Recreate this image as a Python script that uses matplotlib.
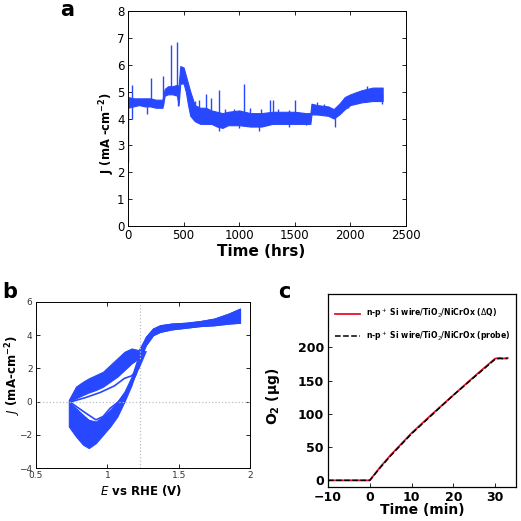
import numpy as np
import matplotlib
matplotlib.use('Agg')
import matplotlib.pyplot as plt

# ---- panel a: long-term stability, band envelope
t_hrs = [0, 50, 100, 150, 200, 250, 310, 330, 360, 400, 440, 455, 470, 500, 520, 540, 560,
         600, 650, 700, 750, 800, 850, 900, 1000, 1100, 1200, 1300, 1400, 1500, 1600, 1640,
         1650, 1700, 1800, 1850, 1900, 1950, 2000, 2100, 2200, 2290]
j_low = [4.4, 4.45, 4.5, 4.45, 4.45, 4.4, 4.4, 4.85, 4.9, 4.9, 4.85, 4.5, 5.3, 5.3, 5.0, 4.5, 4.1,
         3.9, 3.8, 3.8, 3.8, 3.7, 3.65, 3.75, 3.75, 3.7, 3.7, 3.8, 3.8, 3.8, 3.8, 3.8,
         4.15, 4.15, 4.1, 4.0, 4.15, 4.35, 4.5, 4.6, 4.65, 4.65]
j_high = [4.8, 4.75, 4.75, 4.75, 4.75, 4.7, 4.7, 5.1, 5.2, 5.2, 5.25, 5.2, 5.95, 5.9, 5.6, 5.3, 5.0,
          4.5, 4.4, 4.4, 4.3, 4.25, 4.2, 4.25, 4.3, 4.2, 4.2, 4.25, 4.25, 4.25, 4.2, 4.2,
          4.55, 4.5, 4.45, 4.35, 4.55, 4.8, 4.9, 5.05, 5.15, 5.15]
# upward spikes: time, base, top
spike_up_t = [40, 205, 315, 385, 440, 600, 640, 700, 750, 815, 870, 950, 1040, 1100, 1200,
              1280, 1300, 1350, 1450, 1500, 1700, 1760, 1980, 2050, 2150, 2250]
spike_up_base = [4.5, 4.5, 4.5, 4.9, 4.9, 4.0, 3.9, 3.9, 3.9, 3.8, 3.8, 3.8, 3.8, 3.8, 3.8,
                 3.8, 3.8, 3.9, 3.9, 3.9, 4.2, 4.2, 4.4, 4.6, 4.7, 4.7]
spike_up_j = [5.25, 5.5, 5.6, 6.75, 6.85, 4.65, 4.7, 4.9, 4.75, 5.05, 4.35, 4.35, 5.3, 4.4, 4.35,
              4.7, 4.7, 4.35, 4.3, 4.7, 4.6, 4.55, 4.85, 5.0, 5.2, 5.15]
# downward spikes: time, bottom
spike_dn_t = [3, 40, 170, 450, 820, 1000, 1180, 1450, 1600, 1860, 2280]
spike_dn_j = [2.4, 4.0, 4.15, 4.45, 3.55, 3.65, 3.55, 3.7, 3.75, 3.7, 4.55]
spike_dn_top = [4.6, 4.6, 4.6, 5.0, 4.0, 4.0, 4.0, 4.0, 4.0, 4.2, 4.9]

# ---- panel b: cyclic voltammograms (envelopes of the many cycles)
E_grid = [0.73, 0.78, 0.83, 0.87, 0.92, 0.97, 1.02, 1.07, 1.12, 1.17, 1.22, 1.27, 1.32, 1.37,
          1.45, 1.55, 1.65, 1.75, 1.85, 1.93]
fwd_lo = [-1.5, -2.1, -2.6, -2.8, -2.5, -2.0, -1.5, -0.9, 0.0, 1.0, 2.3, 3.4, 4.0, 4.2,
          4.35, 4.45, 4.55, 4.6, 4.7, 4.75]
fwd_hi = [0.0, -0.4, -0.8, -1.1, -1.2, -0.9, -0.5, 0.0, 0.6, 1.5, 2.8, 3.9, 4.4, 4.6,
          4.7, 4.75, 4.85, 5.0, 5.3, 5.6]
rev_lo = [0.0, 0.2, 0.4, 0.55, 0.7, 0.9, 1.2, 1.5, 1.9, 2.3, 2.6, 3.4, 4.0, 4.2,
          4.35, 4.45, 4.55, 4.6, 4.7, 4.75]
rev_hi = [0.1, 0.9, 1.2, 1.4, 1.6, 1.8, 2.2, 2.6, 3.0, 3.2, 3.1, 3.9, 4.4, 4.6,
          4.7, 4.75, 4.85, 5.0, 5.3, 5.6]
E_inner_a = [0.75, 0.85, 0.95, 1.05, 1.12, 1.17, 1.22, 1.27]
J_inner_a = [0.0, 0.25, 0.55, 0.95, 1.4, 1.55, 2.0, 3.0]
E_inner_b = [0.75, 0.85, 0.92, 0.97, 1.02, 1.08, 1.14, 1.2, 1.26]
J_inner_b = [-0.1, -0.7, -1.1, -0.9, -0.4, 0.0, 0.6, 1.6, 3.0]
E_rev = 1.23

# ---- panel c: O2 evolved
t_min = [-10, 0, 2.5, 5, 10, 15, 20, 25, 30, 31, 32, 33]
o2_dq = [0, 0, 20, 38, 71, 100, 128, 156, 183, 184, 183, 184]
o2_probe = [0, 0, 19, 37, 70, 99, 128, 155, 182, 183, 183, 183]

blue = '#2848ff'
W = 521.0
fig = plt.figure(figsize=(5.21, 5.21), dpi=100)


def box(l, t, r, b):
    return fig.add_axes([l / W, 1 - b / W, (r - l) / W, (b - t) / W])


def matlab_ticks(ax, size):
    ax.tick_params(direction='in', top=True, right=True, length=3, width=0.6,
                   labelsize=size, pad=2.5)
    for s in ax.spines.values():
        s.set_linewidth(0.7)


# panel a
axa = box(128, 11, 406, 226)
axa.fill_between(t_hrs, j_low, j_high, color=blue, lw=0.8)
axa.vlines(spike_up_t, spike_up_base, spike_up_j, color=blue, lw=1)
axa.vlines(spike_dn_t, spike_dn_j, spike_dn_top, color=blue, lw=1)
axa.set_xlim(0, 2500)
axa.set_ylim(0, 8)
axa.set_xticks([0, 500, 1000, 1500, 2000, 2500])
matlab_ticks(axa, 8.5)
axa.set_xlabel('Time (hrs)', fontsize=11, fontweight='bold')
axa.set_ylabel('J (mA -cm$^{\\mathbf{-2}}$)', fontsize=8.3, fontweight='bold')
axa.xaxis.set_label_coords(0.48, -0.085)
axa.yaxis.set_label_coords(-0.04, 0.43)
fig.text(60 / W, 1 - 10 / W, 'a', fontsize=15, fontweight='bold', va='center')

# panel b
axb = box(36, 302, 250, 468)
axb.axvline(E_rev, color='#b8c0cc', ls=':', lw=0.9)
axb.axhline(0, color='#b8c0cc', ls=':', lw=0.9)
axb.fill_between(E_grid, fwd_lo, fwd_hi, color=blue, lw=0.8)
axb.fill_between(E_grid, rev_lo, rev_hi, color=blue, lw=0.8)
axb.plot(E_inner_a, J_inner_a, color=blue, lw=1.2)
axb.plot(E_inner_b, J_inner_b, color=blue, lw=1.2)
axb.set_xlim(0.5, 2)
axb.set_ylim(-4, 6)
axb.set_xticks([0.5, 1, 1.5, 2])
axb.set_xticklabels(['0.5', '1', '1.5', '2'])
matlab_ticks(axb, 6.5)
axb.tick_params(labelcolor='#333333')
axb.set_xlabel('$\\mathbf{\\it{E}}$ vs RHE (V)', fontsize=8.5, fontweight='bold')
axb.set_ylabel('$\\mathbf{\\it{J}}$ (mA-cm$^{\\mathbf{-2}}$)', fontsize=8.5, fontweight='bold')
axb.xaxis.set_label_coords(0.49, -0.09)
axb.yaxis.set_label_coords(-0.06, 0.56)
fig.text(2 / W, 1 - 292 / W, 'b', fontsize=15, fontweight='bold', va='center')

# panel c
axc = box(328, 294, 516, 487)
axc.plot(t_min, o2_dq, color='#e8102a', lw=1.3,
         label='n-p$^+$ Si wire/TiO$_2$/NiCrOx ($\\Delta$Q)')
axc.plot(t_min, o2_probe, color='black', lw=1.1, ls='--',
         label='n-p$^+$ Si wire/TiO$_2$/NiCrOx (probe)')
axc.set_xlim(-10, 35)
axc.set_ylim(-10, 280)
axc.set_xticks([-10, 0, 10, 20, 30])
axc.set_yticks([0, 50, 100, 150, 200])
axc.tick_params(direction='in', top=False, right=False, length=3, width=0.6,
                labelsize=9, pad=3)
for lab in axc.get_xticklabels() + axc.get_yticklabels():
    lab.set_fontweight('bold')
for s in axc.spines.values():
    s.set_linewidth(0.9)
axc.set_xlabel('Time (min)', fontsize=10, fontweight='bold')
axc.set_ylabel('O$_\\mathbf{2}$ ($\\mathbf{\\mu}$g)', fontsize=10, fontweight='bold')
axc.xaxis.set_label_coords(0.5, -0.085)
axc.yaxis.set_label_coords(-0.245, 0.47)
leg = axc.legend(loc='upper left', bbox_to_anchor=(0.0, 0.97), frameon=False,
                 fontsize=5.6, handlelength=3.2, labelspacing=1.1)
for txt in leg.get_texts():
    txt.set_fontweight('bold')
fig.text(278 / W, 1 - 292 / W, 'c', fontsize=15, fontweight='bold', va='center')

fig.savefig('out.png', dpi=100)
